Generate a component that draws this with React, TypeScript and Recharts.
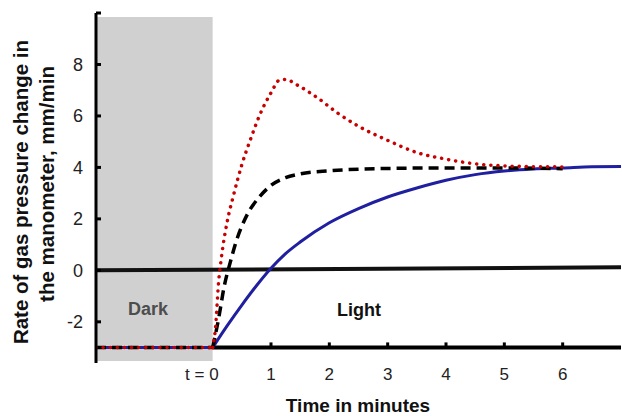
import { LineChart, Line, XAxis, YAxis, ReferenceArea, ReferenceLine } from "recharts"

// minutes, relative to switching the light on
const xTicks = [0, 1, 2, 3, 4, 5, 6]
const yTicks = [-2, 0, 2, 4, 6, 8, 10]

const zeroTime = [-2, 7]
const zeroRate = [0, 0.12]

// dark phase, shared by all three traces
const darkTime = [-2, 0]
const darkRate = [-3, -3]

const blueTime = [0, 0.25, 0.5, 0.75, 1, 1.25, 1.5, 2, 2.5, 3, 3.5, 4, 4.5, 5, 5.5, 6, 6.5, 7]
const blueRate = [-3, -2.15, -1.35, -0.6, 0.08, 0.65, 1.1, 1.85, 2.4, 2.85, 3.2, 3.5, 3.72, 3.86, 3.94, 3.98, 4.03, 4.04]

const dashTime = [0, 0.1, 0.2, 0.3, 0.4, 0.6, 0.8, 1, 1.25, 1.5, 2, 2.5, 3, 4, 5, 6]
const dashRate = [-3, -1.9, -0.6, 0.3, 1.1, 2.2, 2.85, 3.3, 3.6, 3.75, 3.87, 3.93, 3.96, 3.98, 3.98, 3.95]

const redTime = [0, 0.05, 0.1, 0.15, 0.25, 0.35, 0.5, 0.65, 0.8, 1, 1.15, 1.25, 1.45, 1.8, 2.15, 2.5, 3, 3.5, 4, 4.5, 5, 5.5, 6]
const redRate = [-3, -2.2, -0.5, 0.5, 1.9, 2.85, 4.1, 5.1, 6.0, 6.9, 7.4, 7.42, 7.2, 6.7, 6.1, 5.6, 5.05, 4.58, 4.32, 4.14, 4.06, 4.03, 4.02]

const toPoints = (ts: number[], vs: number[]) => ts.map((t, i) => ({ t, v: vs[i] }))

const zeroLine = toPoints(zeroTime, zeroRate)
const dark = toPoints(darkTime, darkRate)
const blue = toPoints(blueTime, blueRate)
const dashed = toPoints(dashTime, dashRate)
const dotted = toPoints(redTime, redRate)

const font = '"Liberation Sans", Arial, sans-serif'

const XTick = (props: any) => {
  const { x, y, payload } = props
  const isZero = payload.value === 0
  return (
    <text
      x={isZero ? x + 6 : x}
      y={y}
      dy="1em"
      textAnchor={isZero ? "end" : "middle"}
      fontSize={17}
      fontFamily={font}
      fill="#222"
    >
      {isZero ? "t = 0" : payload.value}
    </text>
  )
}

const YTick = (props: any) => {
  const { x, y, payload } = props
  return (
    <g>
      <line x1={x + 13} x2={x + 18} y1={y} y2={y} stroke="#000" strokeWidth={3} />
      {payload.value !== 10 && (
        <text x={x} y={y} dy="0.355em" textAnchor="end" fontSize={18} fontFamily={font} fill="#222">
          {payload.value}
        </text>
      )}
    </g>
  )
}

export default function App() {
  return (
    <div style={{ position: "absolute", left: 0, top: 0, width: 622, height: 416, background: "#fff" }}>
      <LineChart width={622} height={416} margin={{ top: 13, right: 1, bottom: 23, left: 0 }}>
        <ReferenceArea x1={-2} x2={0} y1={-3.52} y2={9.84} fill="#d0d0d0" fillOpacity={1} stroke="none" ifOverflow="visible" />
        <XAxis
          type="number"
          dataKey="t"
          domain={[-2, 7]}
          ticks={xTicks}
          axisLine={false}
          tickLine={false}
          tickSize={0}
          tickMargin={0}
          height={30}
          tick={XTick}
          allowDataOverflow
        />
        <YAxis
          type="number"
          dataKey="v"
          domain={[-3.6, 10]}
          ticks={yTicks}
          width={96}
          axisLine={{ stroke: "#000", strokeWidth: 3 }}
          tickLine={false}
          tickSize={0}
          tickMargin={13}
          tick={YTick}
          allowDataOverflow
        />
        <ReferenceLine segment={[{ x: 0, y: -3 }, { x: 7, y: -3 }]} stroke="#000" strokeWidth={4} />
        {xTicks.filter((t) => t > 0).map((t) => (
          <ReferenceLine key={t} segment={[{ x: t, y: -3 }, { x: t, y: -2.8 }]} stroke="#000" strokeWidth={3} />
        ))}
        <Line data={zeroLine} dataKey="v" type="linear" stroke="#111" strokeWidth={4} dot={false} isAnimationActive={false} />
        <Line data={dark} dataKey="v" type="linear" stroke="#1f1fa0" strokeWidth={3} dot={false} isAnimationActive={false} />
        <Line data={dark} dataKey="v" type="linear" stroke="#000" strokeWidth={3.5} strokeDasharray="10 6" dot={false} isAnimationActive={false} />
        <Line data={dark} dataKey="v" type="linear" stroke="#c80000" strokeWidth={3.5} strokeDasharray="0.1 7" strokeLinecap="round" dot={false} isAnimationActive={false} />
        <Line data={blue} dataKey="v" type="monotone" stroke="#1f1fa0" strokeWidth={3} dot={false} isAnimationActive={false} />
        <Line data={dashed} dataKey="v" type="monotone" stroke="#000" strokeWidth={3.5} strokeDasharray="10 6" dot={false} isAnimationActive={false} />
        <Line data={dotted} dataKey="v" type="monotone" stroke="#c80000" strokeWidth={3.5} strokeDasharray="0.1 7" strokeLinecap="round" dot={false} isAnimationActive={false} />
      </LineChart>
      <svg width={622} height={416} style={{ position: "absolute", left: 0, top: 0, pointerEvents: "none" }}>
        <g fontFamily={font} fontWeight="bold">
          <text transform="translate(28,192) rotate(-90)" textAnchor="middle" fontSize={20.5} fill="#111">
            Rate of gas pressure change in
          </text>
          <text transform="translate(54,184) rotate(-90)" textAnchor="middle" fontSize={20.5} fill="#111">
            the manometer, mm/min
          </text>
          <text x={358} y={412} textAnchor="middle" fontSize={19} fill="#111">
            Time in minutes
          </text>
          <text x={148} y={315} textAnchor="middle" fontSize={18} fill="#4d4d4d">
            Dark
          </text>
          <text x={359} y={316} textAnchor="middle" fontSize={18} fill="#111">
            Light
          </text>
        </g>
      </svg>
    </div>
  )
}
